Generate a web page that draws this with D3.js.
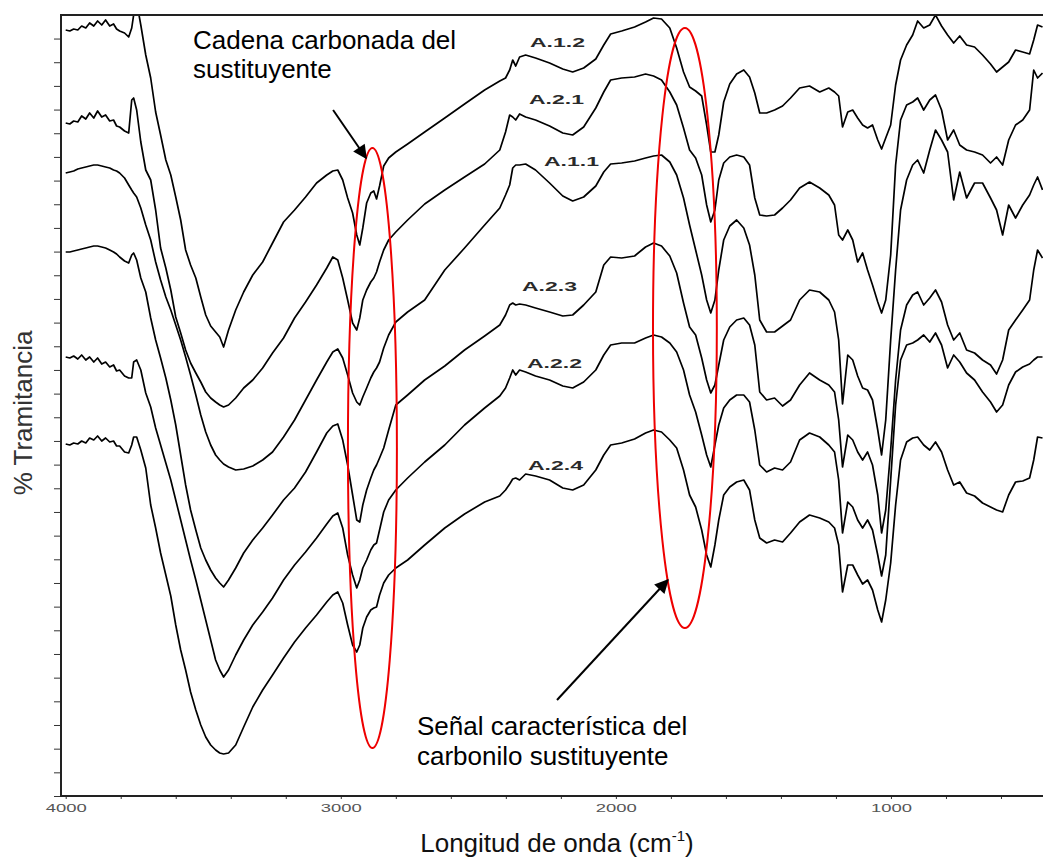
<!DOCTYPE html>
<html>
<head>
<meta charset="utf-8">
<style>
  body { margin: 0; background: #fff; }
  svg text { font-family: Arial, "Liberation Sans", sans-serif; }
</style>
</head>
<body>
<svg id="chart" width="1043" height="858"></svg>
<script src="https://d3js.org/d3.v7.min.js"></script>
<script>
// wavenumber grid (cm-1) shared by all spectra
var wavenumbers = [
  4000,3985,3971,3956,3942,3927,3913,3898,3884,3869,3855,3840,3826,3815,3804,3786,3771,
  3760,3753,3742,3727,3709,3691,3673,3655,3636,3618,3600,3582,3564,3546,3527,3509,3491,3473,3455,3440,3426,
  3408,3382,3353,3320,3284,3248,3208,3168,3128,3088,3051,3029,3011,
  2993,2975,2957,2942,2931,2920,2906,2891,2880,2870,2859,2844,2826,
  2800,2757,2695,2622,2550,2477,2422,2401,2386,2375,2364,2350,2328,2292,2241,2193,2157,2117,2073,
  2044,2019,1979,1932,1892,1863,1834,1804,1779,1754,1732,1710,1688,1670,1655,1640,1626,1608,1586,1561,1535,1514,1495,1477,1452,1423,1394,1365,
  1332,1296,1259,1226,1205,1190,1176,1157,1139,1121,1103,1085,1067,1048,1034,1019,1001,983,965,943,921,903,881,859,838,816,794,772,750,725,696,667,638,616,594,572,547,521,496,481,467,449
];

// % transmitancia (offset, arbitrary units)
var a12 = [
  77.0,76.9,77.1,77.0,77.4,77.2,77.7,77.4,77.9,77.5,78.0,77.4,77.6,77.1,76.9,76.7,76.3,
  77.2,78.5,79.8,77.5,74.5,72.2,68.8,66.5,64.0,62.5,60.3,58.0,55.0,53.5,52.2,50.3,48.5,47.4,46.8,46.3,45.3,
  47.0,49.0,50.8,52.5,53.8,55.7,57.8,59.0,60.3,61.7,62.5,62.9,63.0,
  62.0,60.2,58.7,56.5,55.5,57.2,59.7,60.7,60.9,60.1,61.4,63.4,64.2,
  64.8,65.6,66.8,68.2,69.6,71.0,71.9,72.2,73.0,74.0,73.4,74.3,74.5,74.2,73.7,73.1,72.8,73.2,74.1,
  75.5,76.6,76.9,77.3,77.8,78.2,78.1,77.2,75.2,72.8,71.3,70.9,70.4,67.5,64.8,64.8,66.5,69.8,71.6,72.6,73.0,72.3,70.7,68.7,68.7,69.0,69.4,70.2,
  71.2,71.4,70.8,71.2,70.8,70.4,67.3,68.8,69.0,68.2,67.5,67.2,67.5,66.0,65.1,66.2,67.5,71.5,74.0,75.5,76.5,77.9,77.2,77.5,78.5,77.4,76.5,75.7,76.4,75.5,75.3,74.5,73.6,72.8,73.3,73.8,75.0,74.8,74.6,76.0,77.5,77.3
];
var a21 = [
  67.7,67.6,67.9,67.8,68.4,68.1,68.7,68.2,68.9,68.3,68.5,67.9,68.0,67.4,67.3,66.9,66.7,
  70.0,70.2,69.0,65.8,63.0,62.0,59.0,55.2,53.2,51.0,48.3,46.7,45.0,43.7,42.7,41.8,40.8,40.2,39.8,39.5,39.3,
  39.5,40.2,41.2,42.0,43.2,44.7,46.2,48.2,49.8,51.5,53.2,54.3,54.0,
  52.2,50.0,47.7,47.0,48.2,50.0,51.0,51.8,52.2,52.8,53.8,55.0,56.0,
  56.8,58.0,59.6,61.0,62.3,63.6,65.0,66.8,68.5,68.3,68.0,68.6,68.3,68.0,67.4,66.7,66.5,67.3,69.2,
  70.8,72.0,72.2,72.3,72.6,72.4,72.0,70.8,69.5,67.2,65.0,64.2,62.5,59.5,57.8,59.0,62.0,63.7,64.3,64.5,64.3,63.5,60.2,58.5,58.4,58.5,59.2,60.0,
  61.2,61.8,61.2,60.5,59.5,56.5,56.0,57.0,56.0,53.8,54.7,53.0,51.5,49.8,48.7,50.0,54.5,63.5,68.0,69.5,69.8,70.2,69.0,70.0,70.5,69.0,66.0,67.0,65.5,65.0,64.8,64.5,63.7,64.3,63.5,66.0,67.5,68.0,69.0,73.0,72.2,72.7
];
var a11 = [
  62.7,62.8,62.9,63.1,63.2,63.3,63.4,63.5,63.5,63.4,63.3,63.2,63.0,62.9,62.7,62.2,61.5,
  61.0,60.7,60.3,59.2,57.5,56.0,53.8,52.0,50.3,49.0,47.5,46.0,44.3,42.5,40.5,38.5,36.8,35.5,34.5,34.0,33.6,
  33.3,33.0,33.1,33.4,34.0,34.8,36.3,38.0,40.0,42.0,43.8,44.8,45.1,
  44.2,42.5,40.7,39.8,39.5,40.3,41.2,42.2,42.8,43.2,43.8,45.2,46.5,
  47.8,48.8,50.0,53.0,55.2,57.5,59.2,60.5,61.5,63.2,63.5,63.5,63.6,63.0,61.7,60.4,59.9,60.3,61.4,
  62.8,63.6,63.7,63.9,64.2,64.4,64.5,63.8,62.5,60.2,57.5,55.0,52.5,50.0,48.7,50.0,53.0,56.0,57.4,58.0,57.2,55.5,52.5,48.0,46.8,46.8,47.4,48.0,
  50.0,51.0,50.8,50.0,48.8,46.0,39.6,44.5,44.0,42.4,41.2,41.0,40.0,37.0,34.5,38.0,46.0,53.0,59.0,62.0,63.5,64.0,62.7,65.0,67.0,66.0,64.8,60.0,62.8,60.2,61.7,61.7,60.2,59.0,56.5,59.5,58.2,59.5,60.5,61.5,62.3,61.0
];
var a23 = [
  54.8,54.8,54.9,55.0,55.1,55.2,55.3,55.4,55.4,55.3,55.2,55.0,54.8,54.6,54.3,53.9,53.7,
  54.5,54.7,54.0,52.2,50.8,48.2,46.0,44.2,42.2,40.0,37.5,34.5,31.5,29.0,27.0,25.2,24.0,23.0,22.2,21.7,21.3,
  22.0,23.2,24.7,26.0,27.2,28.5,30.0,31.2,32.8,34.8,36.7,37.4,37.6,
  36.0,33.5,30.5,28.0,27.8,29.5,31.0,32.2,33.0,33.5,34.2,35.2,37.0,
  39.5,40.5,42.0,43.4,45.0,46.4,47.5,48.5,49.5,49.7,49.5,49.6,49.5,49.2,48.8,48.4,48.5,49.5,50.8,
  53.5,54.3,54.2,54.4,55.3,55.7,55.4,54.4,52.7,49.7,47.3,46.5,44.2,42.0,40.7,41.5,43.5,46.0,47.3,48.0,48.2,47.5,45.5,40.8,40.0,40.2,39.4,40.0,
  41.5,42.7,42.0,41.5,40.8,38.0,33.3,36.5,36.0,34.8,34.0,34.8,33.5,30.5,26.7,29.0,35.0,42.0,47.0,49.5,50.5,50.8,49.5,50.2,51.0,49.8,47.5,46.0,46.7,45.0,44.7,44.0,43.5,42.6,44.0,47.0,48.0,49.0,50.0,53.0,55.0,54.2
];
var a22 = [
  44.3,44.2,44.4,44.1,44.5,44.0,44.3,43.8,44.2,43.6,43.8,43.3,43.5,42.9,43.0,42.4,42.2,
  42.2,43.8,44.0,43.0,40.7,39.3,37.2,35.5,33.7,32.0,30.0,28.0,26.0,24.0,22.0,20.0,18.0,16.0,14.0,13.0,12.3,
  13.0,14.5,16.0,17.5,18.8,20.2,22.0,23.5,24.8,26.2,27.6,28.4,28.7,
  27.2,24.5,22.5,21.2,22.0,23.2,24.0,25.0,25.5,25.7,27.0,28.8,30.0,
  31.0,32.2,33.8,35.5,37.5,39.2,40.4,41.2,42.2,43.0,42.5,43.0,42.8,42.4,42.0,41.4,41.2,41.8,43.0,
  44.5,45.5,45.7,45.7,46.2,46.5,46.3,45.7,44.8,43.0,40.5,38.8,36.5,34.5,33.3,35.5,37.5,39.2,40.0,40.5,40.5,39.8,37.0,33.5,32.8,33.2,33.0,33.8,
  36.0,36.7,36.3,35.5,34.8,32.0,26.7,29.8,29.3,28.0,27.2,28.0,27.0,24.5,22.4,24.5,32.0,39.5,44.0,45.5,45.7,46.0,46.5,45.8,46.7,45.5,43.2,44.5,43.8,42.7,42.0,40.8,39.8,38.8,39.5,41.5,42.8,43.3,43.6,44.0,44.3,44.3
];
var a24 = [
  35.6,35.5,35.7,35.6,35.9,35.7,36.2,36.0,36.4,35.9,36.2,35.8,35.9,35.4,35.4,34.8,34.7,
  35.5,36.3,36.3,35.0,33.2,29.5,27.2,24.7,22.5,20.4,17.5,15.0,13.0,10.8,9.0,7.5,6.3,5.5,5.0,4.7,4.6,
  4.7,5.5,7.3,9.3,11.0,12.5,14.2,15.8,17.2,18.5,19.8,20.5,20.8,
  19.7,17.5,15.5,14.8,15.5,17.2,18.3,19.0,19.2,19.3,20.5,21.7,22.5,
  23.2,24.0,25.5,27.2,28.6,29.8,30.4,31.0,31.6,32.1,32.2,32.0,32.6,32.4,32.0,31.2,31.0,31.5,33.0,
  34.5,35.5,35.7,36.1,36.7,37.0,36.8,36.0,35.2,33.0,30.5,29.3,27.0,24.5,23.3,25.5,28.0,30.5,31.3,31.8,32.0,31.0,28.0,26.2,25.7,26.0,25.8,26.7,
  27.8,28.5,28.2,27.8,27.2,25.5,20.8,23.5,23.5,22.5,21.6,22.0,21.0,19.0,17.8,20.0,23.7,29.5,34.0,35.8,36.2,36.3,35.5,35.0,35.8,34.8,33.0,31.5,31.8,30.7,30.4,29.7,29.3,29.0,28.8,30.5,31.8,31.9,32.2,34.0,36.3,36.2
];

var series = [a12, a21, a11, a23, a22, a24];
var seriesNames = ["A.1.2", "A.2.1", "A.1.1", "A.2.3", "A.2.2", "A.2.4"];
var xTickLabels = [4000, 3000, 2000, 1000];

// annotations, in data units: [wavenumber, transmitancia]
var ellipseCenters = [[2885, 35.2], [1749, 47.2]];
var ellipseRadii = [[89, 30], [116, 30]];
var arrowFrom = [[3028, 69.0], [2214, 10.0]];
var arrowTo = [[2908, 64.2], [1811, 22.0]];

var svg = d3.select("#chart");
var x = d3.scaleLinear().domain([4000, 400]).range([65.7, 1056]);
var y = d3.scaleLinear().domain([0.4, 78.5]).range([796, 15]);

svg.append("rect").attr("width", 1043).attr("height", 858).attr("fill", "#fff");

var defs = svg.append("defs");
defs.append("clipPath").attr("id", "plotclip")
  .append("rect").attr("x", 62).attr("y", 16).attr("width", 990).attr("height", 779);

defs.append("marker")
  .attr("id", "head")
  .attr("viewBox", "0 0 10 10")
  .attr("refX", 9).attr("refY", 5)
  .attr("markerWidth", 8).attr("markerHeight", 7)
  .attr("markerUnits", "strokeWidth")
  .attr("orient", "auto")
  .append("path").attr("d", "M0,0 L10,5 L0,10 z").attr("fill", "#000");

// spectra
var line = d3.line()
  .x(function(d, i) { return x(wavenumbers[i]); })
  .y(function(d) { return y(d); });

svg.append("g").attr("clip-path", "url(#plotclip)")
  .selectAll("path")
  .data(series)
  .enter().append("path")
  .attr("d", line)
  .attr("fill", "none")
  .attr("stroke", "#000")
  .attr("stroke-width", 1.7)
  .attr("stroke-linejoin", "round");

// axes
var yTicks = d3.range(0.4, 78.5, 2.367);
svg.append("g")
  .attr("transform", "translate(61,0)")
  .call(d3.axisLeft(y).tickValues(yTicks).tickSize(7).tickFormat(""))
  .call(function(g) { g.select(".domain").remove(); })
  .selectAll("line").attr("stroke", "#333");

svg.append("g")
  .attr("transform", "translate(0,796)")
  .call(d3.axisBottom(x).tickValues(d3.range(4000, 399, -200)).tickSize(3).tickFormat(""))
  .call(function(g) { g.select(".domain").remove(); })
  .selectAll("line").attr("stroke", "#333");

svg.append("path")
  .attr("d", "M1060,15 H61 V796 H1060")
  .attr("fill", "none")
  .attr("stroke", "#222")
  .attr("stroke-width", 2);

svg.append("g").selectAll("text")
  .data(xTickLabels)
  .enter().append("text")
  .attr("x", function(d) { return x(d) - 20; })
  .attr("y", 812)
  .attr("textLength", 41)
  .attr("lengthAdjust", "spacingAndGlyphs")
  .attr("font-size", 11)
  .attr("fill", "#555")
  .text(function(d) { return d; });

// axis titles
svg.append("text")
  .attr("transform", "translate(32,413) rotate(-90)")
  .attr("text-anchor", "middle")
  .attr("font-size", 26)
  .attr("fill", "#333")
  .text("% Tramitancia");

var xt = svg.append("text")
  .attr("x", 557).attr("y", 852)
  .attr("text-anchor", "middle")
  .attr("font-size", 26)
  .attr("fill", "#111");
xt.append("tspan").text("Longitud de onda (cm");
xt.append("tspan").attr("dy", -11).attr("font-size", 15).text("-1");
xt.append("tspan").attr("dy", 11).text(")");

// sample labels
var labelPos = [[530, 47], [529, 104], [544, 166], [522, 291], [527, 368], [528, 470]];
svg.append("g").selectAll("text")
  .data(seriesNames)
  .enter().append("text")
  .attr("x", function(d, i) { return labelPos[i][0]; })
  .attr("y", function(d, i) { return labelPos[i][1]; })
  .attr("textLength", 55)
  .attr("lengthAdjust", "spacingAndGlyphs")
  .attr("font-size", 13)
  .attr("font-weight", "bold")
  .attr("fill", "#2a2a2a")
  .text(function(d) { return d; });

// red ellipses
svg.append("g").selectAll("ellipse")
  .data(ellipseCenters)
  .enter().append("ellipse")
  .attr("cx", function(d) { return x(d[0]); })
  .attr("cy", function(d) { return y(d[1]); })
  .attr("rx", function(d, i) { return x(4000 - ellipseRadii[i][0]) - x(4000); })
  .attr("ry", function(d, i) { return y(0) - y(ellipseRadii[i][1]); })
  .attr("fill", "none")
  .attr("stroke", "#ee0000")
  .attr("stroke-width", 2);

// arrows
svg.append("g").selectAll("line")
  .data(arrowFrom)
  .enter().append("line")
  .attr("x1", function(d) { return x(d[0]); })
  .attr("y1", function(d) { return y(d[1]); })
  .attr("x2", function(d, i) { return x(arrowTo[i][0]); })
  .attr("y2", function(d, i) { return y(arrowTo[i][1]); })
  .attr("stroke", "#000")
  .attr("stroke-width", 2)
  .attr("marker-end", "url(#head)");

// annotation texts
var notes = [
  ["Cadena carbonada del", 193, 49],
  ["sustituyente", 193, 78],
  ["Señal característica del", 417, 735],
  ["carbonilo sustituyente", 417, 765]
];
svg.append("g").selectAll("text")
  .data(notes)
  .enter().append("text")
  .attr("x", function(d) { return d[1]; })
  .attr("y", function(d) { return d[2]; })
  .attr("font-size", 26)
  .attr("fill", "#000")
  .text(function(d) { return d[0]; });
</script>
</body>
</html>
